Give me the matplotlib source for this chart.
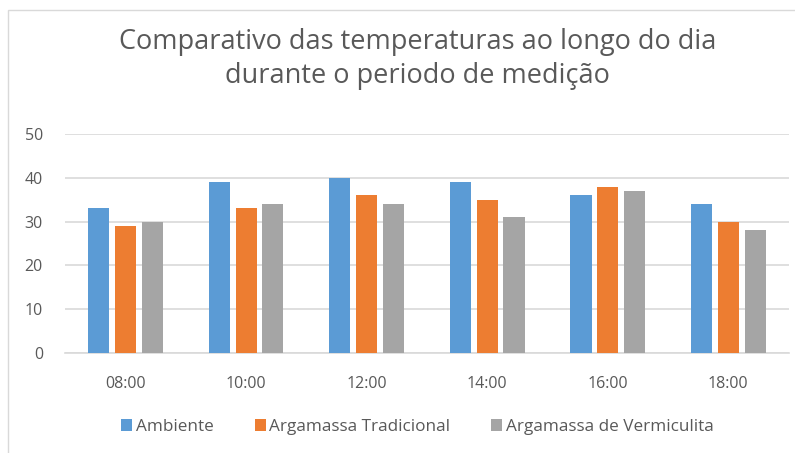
import matplotlib
matplotlib.use("Agg")
import matplotlib.pyplot as plt
import numpy as np
from matplotlib.patches import Rectangle

categories = ["08:00", "10:00", "12:00", "14:00", "16:00", "18:00"]
ambiente = [33, 39, 40, 39, 36, 34]
tradicional = [29, 33, 36, 35, 38, 30]
vermiculita = [30, 34, 34, 31, 37, 28]
series_names = ["Ambiente", "Argamassa Tradicional", "Argamassa de Vermiculita"]
colors = ["#5b9bd5", "#ed7d31", "#a5a5a5"]

plt.rcParams['font.family'] = ['Open Sans', 'DejaVu Sans']

fig = plt.figure(figsize=(7.95, 4.53), dpi=100)
ax = fig.add_axes([0.082, 0.221, 0.91, 0.483])

x = np.arange(len(categories))
w = 0.175
off = 0.222
for i, (vals, name, c) in enumerate(zip([ambiente, tradicional, vermiculita], series_names, colors)):
    ax.bar(x + (i - 1) * off, vals, width=w, color=c, label=name, zorder=3)

ax.set_xlim(-0.5, len(categories) - 0.5)
ax.set_ylim(0, 50)
ax.set_yticks(range(0, 51, 10))
ax.yaxis.grid(True, color="#d9d9d9", linewidth=1.2, zorder=0)
ax.set_xticks(x)
ax.set_xticklabels(categories)
for s in ["top", "right", "left"]:
    ax.spines[s].set_visible(False)
ax.spines["bottom"].set_color("#d9d9d9")
ax.spines["bottom"].set_linewidth(1.2)
ax.tick_params(axis="both", length=0, colors="#595959", labelsize=11.5)
ax.tick_params(axis="y", pad=16)
ax.tick_params(axis="x", pad=17)

fig.text(0.525, 0.87, "Comparativo das temperaturas ao longo do dia\ndurante o periodo de medição",
         ha="center", va="center", fontsize=19.5, color="#595959", linespacing=1.3)

fig.legend(loc="center", bbox_to_anchor=(0.525, 0.057), ncol=3, frameon=False,
           fontsize=12.3, labelcolor="#595959", handlelength=0.65, handleheight=0.7,
           handletextpad=0.2, columnspacing=2.4)

fig.patches.append(Rectangle((8/795, -0.1), 1.2, 1 - 10/453 + 0.1, transform=fig.transFigure,
                             fill=False, edgecolor="#d9d9d9", linewidth=1.0))

fig.savefig("out.png", dpi=100)
